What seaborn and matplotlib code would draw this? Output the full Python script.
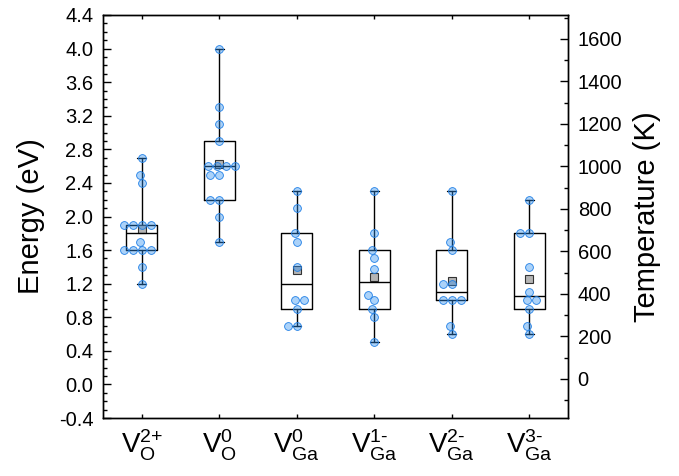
import numpy as np
import pandas as pd
import seaborn as sns
import matplotlib.pyplot as plt
from matplotlib.ticker import MultipleLocator, FormatStrFormatter

# defect labels (mathtext) in plotting order
defects = [r'$\mathrm{V_O^{\text{2+}}}$', r'$\mathrm{V_O^{0}}$', r'$\mathrm{V_{Ga}^{0}}$',
           r'$\mathrm{V_{Ga}^{\text{1-}}}$', r'$\mathrm{V_{Ga}^{\text{2-}}}$', r'$\mathrm{V_{Ga}^{\text{3-}}}$']

# energies (eV)
e_vo2p = [1.2, 1.4, 1.6, 1.6, 1.6, 1.6, 1.7, 1.9, 1.9, 1.9, 1.9, 2.4, 2.5, 2.7]
e_vo0 = [1.7, 2.0, 2.2, 2.2, 2.5, 2.5, 2.6, 2.6, 2.6, 2.6, 2.9, 3.1, 3.3, 4.0]
e_vga0 = [0.7, 0.7, 0.9, 1.0, 1.0, 1.4, 1.7, 1.8, 2.1, 2.3]
e_vga1 = [0.5, 0.8, 0.9, 1.0, 1.07, 1.37, 1.5, 1.6, 1.8, 2.3]
e_vga2 = [0.6, 0.7, 1.0, 1.0, 1.0, 1.2, 1.2, 1.6, 1.7, 2.3]
e_vga3 = [0.6, 0.7, 0.9, 1.0, 1.0, 1.1, 1.4, 1.8, 1.8, 2.2]

groups = [e_vo2p, e_vo0, e_vga0, e_vga1, e_vga2, e_vga3]
df = pd.DataFrame({
    'defect': np.repeat(defects, [len(g) for g in groups]),
    'energy': np.concatenate(groups),
})

sns.set_style('ticks')
plt.rcParams['font.family'] = ['Liberation Sans', 'DejaVu Sans']
plt.rcParams['mathtext.fontset'] = 'custom'
plt.rcParams['mathtext.rm'] = 'Liberation Sans'
plt.rcParams['mathtext.it'] = 'Liberation Sans:italic'
plt.rcParams['axes.unicode_minus'] = False
for k in ['text.color', 'axes.labelcolor', 'xtick.color', 'ytick.color', 'axes.edgecolor']:
    plt.rcParams[k] = 'black'

fig = plt.figure(figsize=(6.79, 4.76), dpi=100)
ax = fig.add_axes([0.1517, 0.1218, 0.6848, 0.8467])


# box stats with Tukey hinges (what the original software uses)
def hinge_stats(vals):
    v = np.sort(np.asarray(vals))
    n = len(v)
    h = (n + 1) // 2
    return dict(med=np.median(v), q1=np.median(v[:h]), q3=np.median(v[n - h:]),
                whislo=v.min(), whishi=v.max(), mean=v.mean(), fliers=[])


stats = [hinge_stats(g) for g in groups]
line = dict(color='black', linewidth=1.0)
ax.bxp(stats, positions=range(len(groups)), widths=0.4, capwidths=0.12,
       showfliers=False, manage_ticks=False,
       boxprops=line, medianprops=line, whiskerprops=line, capprops=line)

# individual points
sns.swarmplot(data=df, x='defect', y='energy', order=defects, size=5.6,
              color='#2f8ff0', edgecolor='#1f7fe6', linewidth=0.6, ax=ax)
for coll in ax.collections:
    coll.set_facecolor((0.18, 0.56, 0.94, 0.4))
    coll.set_edgecolor('#1f7fe6')

# mean markers
sns.pointplot(data=df, x='defect', y='energy', order=defects, estimator='mean',
              errorbar=None, linestyle='none', marker='s', markersize=5.5,
              color='#b5b5b5', markeredgecolor='#333333', markeredgewidth=0.8, ax=ax)

ax.set_xlim(-0.5, 5.5)
ax.set_ylim(-0.4, 4.4)
ax.set_xlabel('')
ax.set_ylabel('Energy (eV)', fontsize=21, labelpad=10)
ax.yaxis.set_major_locator(MultipleLocator(0.4))
ax.yaxis.set_minor_locator(MultipleLocator(0.1))
ax.yaxis.set_major_formatter(FormatStrFormatter('%.1f'))
ax.tick_params(axis='y', which='major', direction='in', length=6, width=1, labelsize=14.5, pad=7)
ax.tick_params(axis='y', which='minor', direction='in', length=3, width=1)
ax.tick_params(axis='x', which='major', direction='in', length=3, width=1, top=True,
               labelsize=20, pad=7)
for s in ax.spines.values():
    s.set_linewidth(1.0)
    s.set_visible(True)

ax2 = ax.twinx()
ax2.set_ylim(-184, 1712)
ax2.yaxis.set_major_locator(MultipleLocator(200))
ax2.yaxis.set_minor_locator(MultipleLocator(100))
ax2.tick_params(axis='y', which='major', direction='in', length=6, width=1, labelsize=14.5, pad=7)
ax2.tick_params(axis='y', which='minor', direction='in', length=3, width=1)
ax2.set_ylabel('Temperature (K)', fontsize=21, labelpad=8)
for s in ax2.spines.values():
    s.set_linewidth(1.0)

fig.savefig('out.png', dpi=100)
